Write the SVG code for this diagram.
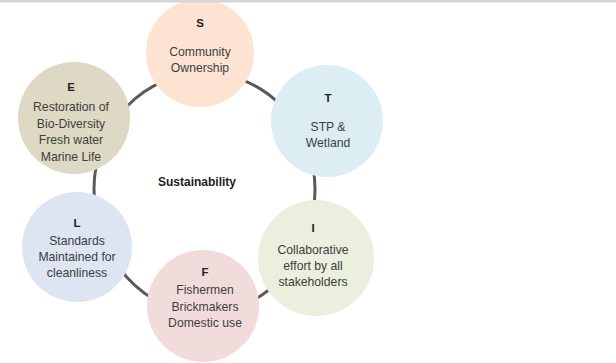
<svg xmlns="http://www.w3.org/2000/svg" width="616" height="363" viewBox="0 0 616 363">
  <style>
    .ring { fill: none; stroke: #5a5a5a; stroke-width: 3; }
    .node { stroke: none; }
    text { font-family: "Liberation Sans", Arial, sans-serif; font-size: 12.2px; fill: #3d3d3d; text-anchor: middle; }
    .key { font-weight: bold; fill: #1e1e1e; font-size: 11.5px; }
    .hub { font-weight: bold; fill: #1e1e1e; font-size: 12px; }
  </style>
  <rect x="0" y="0" width="616" height="363" fill="#ffffff"/>

  <!-- cycle ring, drawn under the nodes; the lower half sags a little -->
  <g id="connectors">
    <path class="ring" d="M 94 189 A 110.5 116 0 0 1 315 189 A 110.5 124 0 0 1 94 189 Z"/>
  </g>

  <g id="node-s">
    <circle class="node" cx="200" cy="53" r="54" fill="#FDE4D2"/>
    <text class="key" x="200" y="27">S</text>
    <text x="200" y="56">Community</text>
    <text x="200" y="72">Ownership</text>
  </g>

  <g id="node-t">
    <circle class="node" cx="327" cy="121" r="56" fill="#DCEEF4"/>
    <text class="key" x="328" y="102">T</text>
    <text x="328" y="131">STP &amp;</text>
    <text x="328" y="147">Wetland</text>
  </g>

  <g id="node-i">
    <circle class="node" cx="316" cy="258" r="58" fill="#EBF0DE"/>
    <text class="key" x="313" y="232">I</text>
    <text x="313" y="254">Collaborative</text>
    <text x="313" y="270">effort by all</text>
    <text x="313" y="286">stakeholders</text>
  </g>

  <g id="node-f">
    <circle class="node" cx="203" cy="306" r="56" fill="#F2DCDB"/>
    <text class="key" x="205" y="276">F</text>
    <text x="205" y="294">Fishermen</text>
    <text x="205" y="311">Brickmakers</text>
    <text x="205" y="327">Domestic use</text>
  </g>

  <g id="node-l">
    <circle class="node" cx="77" cy="247" r="55" fill="#DCE5F1"/>
    <text class="key" x="77" y="227">L</text>
    <text x="77" y="245">Standards</text>
    <text x="77" y="261">Maintained for</text>
    <text x="77" y="277">cleanliness</text>
  </g>

  <g id="node-e">
    <circle class="node" cx="74" cy="118" r="56" fill="#DDD9C4"/>
    <text class="key" x="71" y="91">E</text>
    <text x="71" y="111">Restoration of</text>
    <text x="71" y="128">Bio-Diversity</text>
    <text x="71" y="144">Fresh water</text>
    <text x="71" y="161">Marine Life</text>
  </g>

  <g id="hub">
    <text class="hub" x="197" y="186">Sustainability</text>
  </g>

  <!-- thin grey band along the top edge -->
  <rect x="0" y="0" width="616" height="2.5" fill="#D6D6D6"/>
</svg>
